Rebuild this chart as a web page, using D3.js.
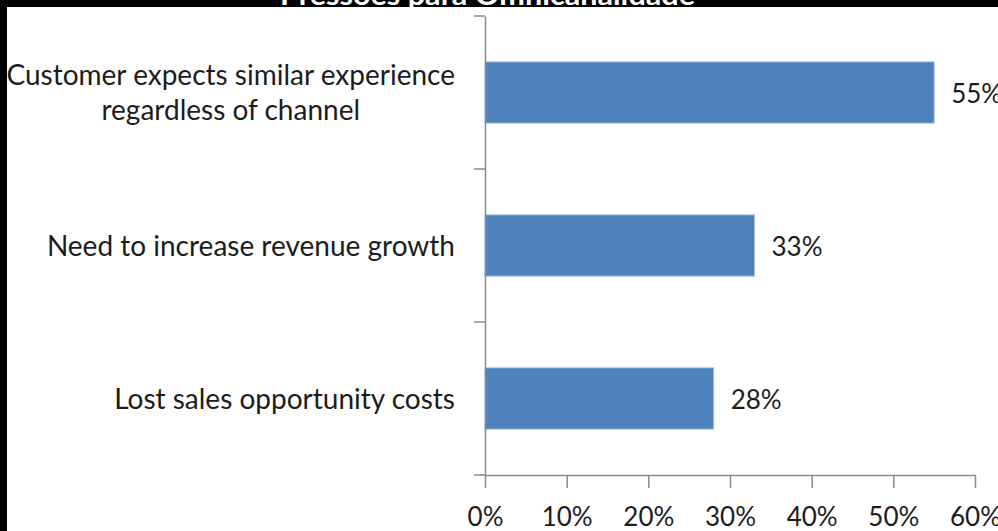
<!DOCTYPE html>
<html>
<head>
<meta charset="utf-8">
<script src="https://cdn.jsdelivr.net/npm/d3@7/dist/d3.min.js"></script>
<style>
  html, body { margin: 0; padding: 0; background: #fff; overflow: hidden; }
  svg { display: block; }
</style>
</head>
<body>
<svg id="chart" width="998" height="531"></svg>
<script>
// Chart content
const chartTitle = "Pressões para Omnicanalidade";
const categories = [
  "Customer expects similar experience regardless of channel",
  "Need to increase revenue growth",
  "Lost sales opportunity costs"
];
// How each category label breaks onto lines
const categoryLines = [
  ["Customer expects similar experience", "regardless of channel"],
  ["Need to increase revenue growth"],
  ["Lost sales opportunity costs"]
];
const values = [55, 33, 28];          // percent of respondents
const xTickValues = [0, 10, 20, 30, 40, 50, 60];

const W = 998, H = 531;
const FONT = "Lato, 'Open Sans', 'DejaVu Sans', sans-serif";
const TEXT = "#1c1c1c";
const AXIS = "#8a8a8a";
const LABEL_SIZE = 28, NUM_SIZE = 26;

const svg = d3.select("#chart");

svg.append("rect").attr("width", W).attr("height", H).attr("fill", "#fff");

const x = d3.scaleLinear().domain([0, 60]).range([485, 975]);
const y = d3.scaleBand().domain(categories).range([16, 475])
  .paddingInner(0.6).paddingOuter(0.3);

// Bars
svg.append("g").selectAll("rect")
  .data(categories)
  .join("rect")
  .attr("x", x(0))
  .attr("y", d => y(d))
  .attr("width", (d, i) => x(values[i]) - x(0))
  .attr("height", y.bandwidth())
  .attr("fill", "#4f81bd")
  .attr("stroke", "#a3bfe0")
  .attr("stroke-width", 1);

// Value axis along the bottom
const xAxis = svg.append("g")
  .attr("transform", `translate(0,${y.range()[1]})`)
  .call(d3.axisBottom(x).tickValues(xTickValues).tickFormat(d => d + "%")
    .tickSizeInner(13).tickSizeOuter(0).tickPadding(0));
xAxis.select(".domain").attr("stroke", AXIS).attr("stroke-width", 1.5);
xAxis.selectAll(".tick line").attr("stroke", AXIS).attr("stroke-width", 1.5);
xAxis.selectAll(".tick text")
  .attr("y", 51).attr("dy", null)
  .attr("fill", TEXT).attr("font-family", FONT).attr("font-size", NUM_SIZE);

// Category axis: a plain line with ticks between categories
const yAxis = svg.append("g")
  .attr("transform", `translate(${x(0)},0)`)
  .call(d3.axisLeft(y).tickSize(0).tickFormat(""));
yAxis.select(".domain").attr("stroke", AXIS).attr("stroke-width", 1.5);
const boundaries = d3.range(categories.length + 1)
  .map(i => y.range()[0] + i * y.step());
svg.append("g").selectAll("line")
  .data(boundaries)
  .join("line")
  .attr("x1", x(0) - 11).attr("x2", x(0))
  .attr("y1", d => d).attr("y2", d => d)
  .attr("stroke", AXIS).attr("stroke-width", 1.5);

// Category labels, right edge aligned, wrapped lines centred on each other
const labelRight = 455, lineH = 35;
categoryLines.forEach((lines, i) => {
  const cy = y(categories[i]) + y.bandwidth() / 2 - 1;
  const g = svg.append("g");
  const texts = lines.map((ln, j) => g.append("text")
    .attr("y", cy + (j - (lines.length - 1) / 2) * lineH)
    .attr("dominant-baseline", "central")
    .attr("text-anchor", "middle")
    .attr("fill", TEXT).attr("font-family", FONT).attr("font-size", LABEL_SIZE)
    .text(ln));
  const maxW = d3.max(texts, t => t.node().getComputedTextLength());
  texts.forEach(t => t.attr("x", labelRight - maxW / 2));
});

// Value labels
svg.append("g").selectAll("text")
  .data(categories)
  .join("text")
  .attr("x", (d, i) => x(values[i]) + 17)
  .attr("y", d => y(d) + y.bandwidth() / 2)
  .attr("dominant-baseline", "central")
  .attr("fill", TEXT).attr("font-family", FONT).attr("font-size", NUM_SIZE)
  .text((d, i) => values[i] + "%");

// Dark frame along the top and left edges, title sitting in the top band
svg.append("rect").attr("x", 0).attr("y", 0).attr("width", W).attr("height", 7).attr("fill", "#000");
svg.append("rect").attr("x", 0).attr("y", 0).attr("width", 7).attr("height", H).attr("fill", "#000");
svg.append("text")
  .attr("x", 280).attr("y", 5)
  .attr("textLength", 415).attr("lengthAdjust", "spacingAndGlyphs")
  .attr("fill", "#fff").attr("font-family", FONT).attr("font-weight", "bold").attr("font-size", 28)
  .text(chartTitle);
</script>
</body>
</html>
